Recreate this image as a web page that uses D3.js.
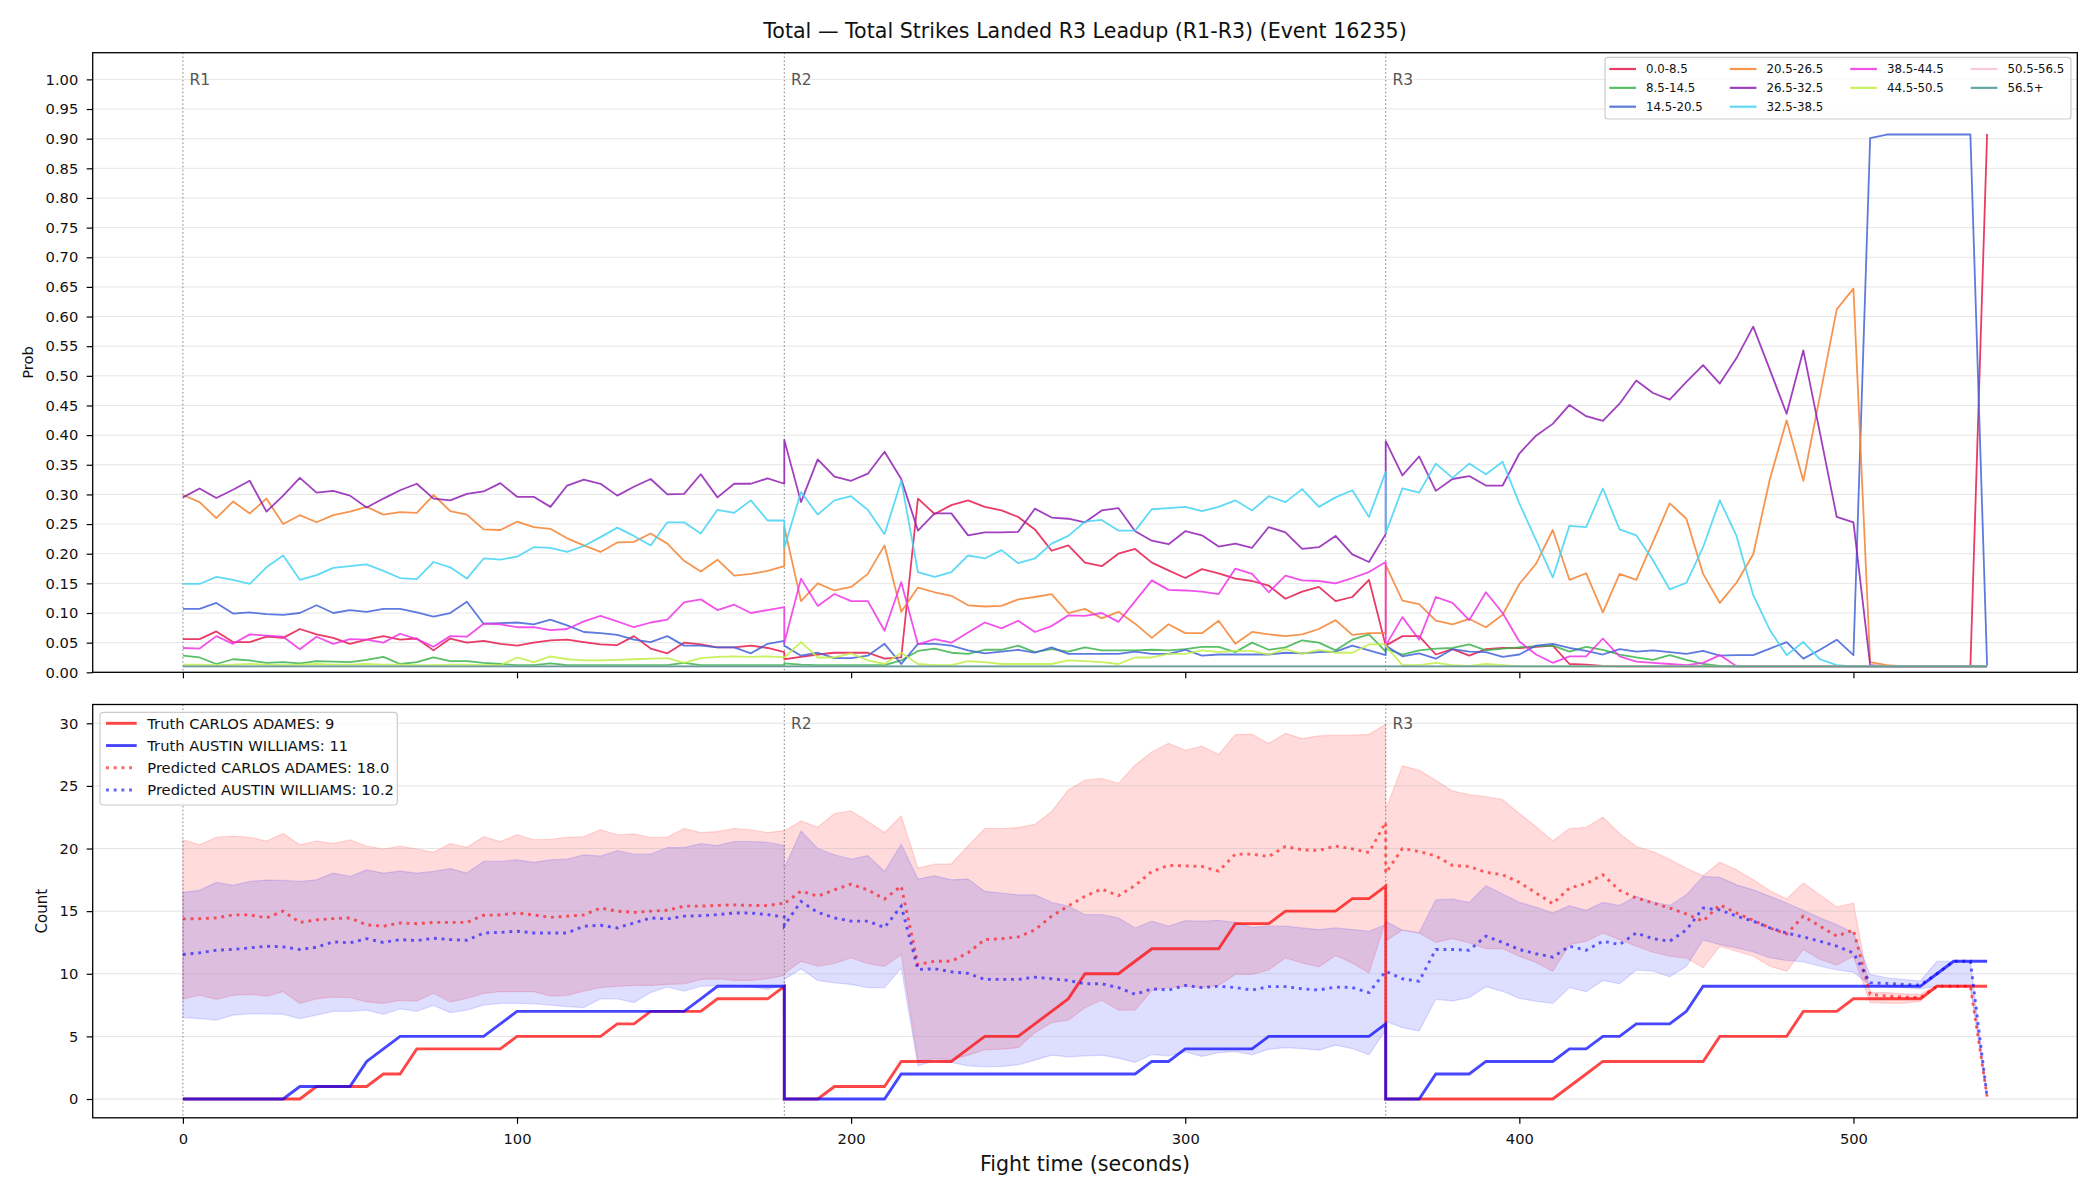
<!DOCTYPE html>
<html>
<head>
<meta charset="utf-8">
<title>Total Strikes Landed R3 Leadup</title>
<script src="https://cdn.jsdelivr.net/npm/d3@7/dist/d3.min.js"></script>
<style>
html,body{margin:0;padding:0;background:#ffffff;}
svg{display:block;}
</style>
</head>
<body>
<svg id="chart" width="2100" height="1200"></svg>
<script>
// ---------------- DATA ----------------
const tR1 = [0,5,10,15,20,25,30,35,40,45,50,55,60,65,70,75,80,85,90,95,100,105,110,115,120,125,130,135,140,145,150,155,160,165,170,175,180];
const tR2 = [180,185,190,195,200,205,210,215,220,225,230,235,240,245,250,255,260,265,270,275,280,285,290,295,300,305,310,315,320,325,330,335,340,345,350,355,360];
const tR3 = [360,365,370,375,380,385,390,395,400,405,410,415,420,425,430,435,440,445,450,455,460,465,470,475,480,485,490,495,500,505,510,515,520,525,530,535,540];

const roundStarts = [0, 180, 360];
const roundNames = ["R1", "R2", "R3"];
const bucketNames = ["0.0-8.5","8.5-14.5","14.5-20.5","20.5-26.5","26.5-32.5","32.5-38.5","38.5-44.5","44.5-50.5","50.5-56.5","56.5+"];
const probTicks = [0.00,0.05,0.10,0.15,0.20,0.25,0.30,0.35,0.40,0.45,0.50,0.55,0.60,0.65,0.70,0.75,0.80,0.85,0.90,0.95,1.00];
const countTicks = [0,5,10,15,20,25,30];
const timeTicks = [0,100,200,300,400,500];

const prob_0_8_5 = [
0.056,0.056,0.069,0.051,0.051,0.060,0.058,0.073,0.064,0.058,0.048,0.055,0.061,0.055,0.057,0.037,0.057,0.050,0.053,0.048,0.045,0.050,0.054,0.055,0.051,0.047,0.046,0.061,0.040,0.032,0.050,0.047,0.042,0.042,0.045,0.041,0.034,
0.022,0.026,0.030,0.033,0.033,0.033,0.023,0.025,0.293,0.267,0.282,0.290,0.279,0.273,0.262,0.241,0.205,0.214,0.185,0.179,0.200,0.208,0.185,0.172,0.159,0.174,0.167,0.158,0.154,0.146,0.124,0.136,0.144,0.120,0.127,0.156,0.045,
0.045,0.061,0.061,0.030,0.039,0.028,0.039,0.041,0.041,0.043,0.045,0.014,0.013,0.011,0.01,0.01,0.01,0.01,0.01,0.01,0.01,0.01,0.01,0.01,0.01,0.01,0.01,0.01,0.01,0.01,0.01,0.01,0.01,0.01,0.01,0.01,0.908];
const prob_8_5_14_5 = [
0.028,0.025,0.014,0.022,0.020,0.016,0.017,0.015,0.019,0.018,0.017,0.021,0.026,0.014,0.017,0.025,0.019,0.019,0.016,0.014,0.012,0.012,0.015,0.012,0.012,0.012,0.012,0.012,0.012,0.012,0.016,0.012,0.012,0.012,0.012,0.012,0.012,
0.015,0.013,0.012,0.012,0.012,0.012,0.012,0.020,0.036,0.040,0.033,0.031,0.038,0.038,0.045,0.034,0.039,0.035,0.042,0.037,0.037,0.037,0.038,0.037,0.039,0.043,0.043,0.034,0.050,0.038,0.042,0.054,0.050,0.037,0.055,0.064,0.035,
0.040,0.030,0.037,0.040,0.041,0.047,0.037,0.040,0.042,0.044,0.045,0.035,0.043,0.038,0.030,0.025,0.021,0.029,0.021,0.014,0.011,0.01,0.01,0.01,0.01,0.01,0.01,0.01,0.01,0.01,0.01,0.01,0.01,0.01,0.01,0.01,0.01];
const prob_14_5_20_5 = [
0.107,0.107,0.117,0.099,0.101,0.098,0.097,0.100,0.113,0.100,0.105,0.102,0.107,0.107,0.101,0.094,0.100,0.119,0.082,0.083,0.084,0.081,0.089,0.079,0.068,0.066,0.063,0.055,0.051,0.061,0.045,0.045,0.042,0.042,0.032,0.048,0.053,
0.045,0.028,0.033,0.024,0.024,0.028,0.048,0.014,0.048,0.048,0.045,0.037,0.032,0.035,0.038,0.033,0.042,0.031,0.031,0.031,0.031,0.035,0.031,0.031,0.038,0.028,0.030,0.030,0.030,0.030,0.033,0.032,0.034,0.035,0.045,0.037,0.029,
0.045,0.027,0.032,0.023,0.039,0.035,0.034,0.026,0.030,0.045,0.048,0.041,0.036,0.030,0.039,0.035,0.037,0.034,0.031,0.036,0.028,0.029,0.029,0.040,0.051,0.023,0.038,0.055,0.029,0.901,0.907,0.907,0.907,0.907,0.907,0.907,0.012];
const prob_20_5_26_5 = [
0.299,0.287,0.260,0.288,0.268,0.293,0.250,0.265,0.253,0.265,0.271,0.279,0.266,0.270,0.269,0.299,0.272,0.266,0.241,0.240,0.254,0.245,0.242,0.226,0.214,0.203,0.219,0.220,0.234,0.217,0.188,0.170,0.190,0.163,0.166,0.171,0.179,
0.245,0.120,0.150,0.138,0.144,0.166,0.214,0.102,0.143,0.135,0.129,0.113,0.111,0.112,0.123,0.127,0.132,0.100,0.107,0.091,0.102,0.082,0.058,0.081,0.066,0.066,0.087,0.048,0.068,0.064,0.061,0.064,0.073,0.088,0.063,0.066,0.066,
0.181,0.121,0.115,0.087,0.081,0.090,0.076,0.097,0.149,0.183,0.240,0.156,0.167,0.101,0.166,0.156,0.220,0.285,0.259,0.166,0.117,0.151,0.199,0.326,0.425,0.323,0.467,0.612,0.647,0.017,0.012,0.01,0.01,0.01,0.01,0.01,0.01];
const prob_26_5_32_5 = [
0.295,0.310,0.294,0.308,0.323,0.271,0.298,0.328,0.303,0.306,0.298,0.278,0.293,0.307,0.318,0.293,0.290,0.301,0.305,0.319,0.296,0.296,0.279,0.315,0.325,0.318,0.298,0.313,0.326,0.300,0.301,0.334,0.295,0.318,0.318,0.327,0.318,
0.392,0.287,0.359,0.330,0.323,0.335,0.372,0.326,0.239,0.268,0.268,0.231,0.236,0.236,0.237,0.276,0.261,0.259,0.253,0.273,0.277,0.238,0.222,0.216,0.238,0.231,0.212,0.217,0.210,0.245,0.236,0.208,0.211,0.230,0.199,0.186,0.233,
0.390,0.332,0.364,0.306,0.326,0.331,0.315,0.315,0.369,0.399,0.419,0.451,0.432,0.424,0.453,0.492,0.471,0.460,0.490,0.518,0.487,0.530,0.583,0.510,0.436,0.543,0.403,0.262,0.253,0.012,0.01,0.01,0.01,0.01,0.01,0.01,0.01];
const prob_32_5_38_5 = [
0.149,0.149,0.161,0.156,0.149,0.177,0.197,0.156,0.164,0.176,0.179,0.182,0.171,0.159,0.157,0.186,0.177,0.158,0.192,0.190,0.195,0.211,0.210,0.203,0.213,0.228,0.244,0.230,0.214,0.253,0.253,0.234,0.274,0.269,0.290,0.256,0.256,
0.210,0.304,0.266,0.290,0.297,0.274,0.233,0.323,0.169,0.161,0.169,0.197,0.192,0.206,0.184,0.192,0.217,0.230,0.254,0.257,0.239,0.239,0.275,0.277,0.279,0.272,0.279,0.290,0.273,0.297,0.287,0.309,0.279,0.295,0.307,0.262,0.338,
0.235,0.310,0.303,0.352,0.328,0.352,0.334,0.355,0.285,0.223,0.160,0.247,0.245,0.310,0.241,0.231,0.189,0.140,0.151,0.211,0.290,0.230,0.130,0.071,0.029,0.051,0.022,0.012,0.01,0.01,0.01,0.01,0.01,0.01,0.01,0.01,0.01];
const prob_38_5_44_5 = [
0.041,0.040,0.061,0.048,0.064,0.062,0.060,0.039,0.060,0.048,0.056,0.055,0.050,0.065,0.056,0.043,0.061,0.060,0.082,0.081,0.076,0.076,0.071,0.073,0.086,0.095,0.086,0.076,0.084,0.089,0.118,0.123,0.105,0.114,0.100,0.105,0.110,
0.050,0.158,0.112,0.132,0.120,0.120,0.070,0.152,0.047,0.056,0.050,0.067,0.084,0.074,0.087,0.068,0.078,0.096,0.095,0.100,0.085,0.120,0.155,0.139,0.138,0.136,0.132,0.175,0.166,0.135,0.163,0.155,0.154,0.150,0.159,0.169,0.186,
0.045,0.093,0.055,0.127,0.117,0.088,0.135,0.100,0.052,0.030,0.016,0.027,0.027,0.057,0.027,0.018,0.016,0.014,0.012,0.016,0.029,0.01,0.01,0.01,0.01,0.01,0.01,0.01,0.01,0.01,0.01,0.01,0.01,0.01,0.01,0.01,0.01];
const prob_44_5_50_5 = [
0.013,0.013,0.012,0.013,0.014,0.013,0.012,0.013,0.014,0.013,0.013,0.014,0.013,0.013,0.012,0.012,0.013,0.013,0.012,0.012,0.025,0.017,0.027,0.022,0.020,0.020,0.021,0.022,0.023,0.024,0.016,0.024,0.026,0.027,0.026,0.027,0.025,
0.025,0.051,0.025,0.025,0.032,0.020,0.014,0.033,0.014,0.012,0.012,0.019,0.017,0.014,0.014,0.014,0.014,0.020,0.019,0.017,0.014,0.025,0.025,0.031,0.031,0.037,0.034,0.036,0.036,0.030,0.039,0.031,0.038,0.033,0.033,0.047,0.047,
0.044,0.012,0.012,0.016,0.012,0.011,0.014,0.012,0.01,0.01,0.01,0.01,0.01,0.01,0.01,0.01,0.01,0.01,0.01,0.01,0.01,0.01,0.01,0.01,0.01,0.01,0.01,0.01,0.01,0.01,0.01,0.01,0.01,0.01,0.01,0.01,0.01];
const prob_50_5_56_5 = [
0.01,0.01,0.01,0.01,0.01,0.01,0.01,0.01,0.01,0.01,0.01,0.01,0.01,0.01,0.01,0.01,0.01,0.01,0.01,0.01,0.01,0.01,0.01,0.01,0.01,0.01,0.01,0.01,0.01,0.01,0.01,0.01,0.01,0.01,0.01,0.01,0.01,
0.01,0.01,0.01,0.01,0.01,0.01,0.01,0.01,0.01,0.01,0.01,0.01,0.01,0.01,0.01,0.01,0.01,0.01,0.01,0.01,0.01,0.01,0.01,0.01,0.01,0.01,0.01,0.01,0.01,0.01,0.01,0.01,0.01,0.01,0.01,0.01,0.01,
0.01,0.01,0.01,0.01,0.01,0.01,0.01,0.01,0.01,0.01,0.01,0.01,0.01,0.01,0.01,0.01,0.01,0.01,0.01,0.01,0.01,0.01,0.01,0.01,0.01,0.01,0.01,0.01,0.01,0.01,0.01,0.01,0.01,0.01,0.01,0.01,0.01];
const prob_56_5_plus = [
0.01,0.01,0.01,0.01,0.01,0.01,0.01,0.01,0.01,0.01,0.01,0.01,0.01,0.01,0.01,0.01,0.01,0.01,0.01,0.01,0.01,0.01,0.01,0.01,0.01,0.01,0.01,0.01,0.01,0.01,0.01,0.01,0.01,0.01,0.01,0.01,0.01,
0.01,0.01,0.01,0.01,0.01,0.01,0.01,0.01,0.01,0.01,0.01,0.01,0.01,0.01,0.01,0.01,0.01,0.01,0.01,0.01,0.01,0.01,0.01,0.01,0.01,0.01,0.01,0.01,0.01,0.01,0.01,0.01,0.01,0.01,0.01,0.01,0.01,
0.01,0.01,0.01,0.01,0.01,0.01,0.01,0.01,0.01,0.01,0.01,0.01,0.01,0.01,0.01,0.01,0.01,0.01,0.01,0.01,0.01,0.01,0.01,0.01,0.01,0.01,0.01,0.01,0.01,0.01,0.01,0.01,0.01,0.01,0.01,0.01,0.01];

// Bottom panel: cumulative counts
const truthAdames = [
0,0,0,0,0,0,0,0,1,1,1,1,2,2,4,4,4,4,4,4,5,5,5,5,5,5,6,6,7,7,7,7,8,8,8,8,9,
0,0,0,1,1,1,1,3,3,3,3,4,5,5,5,6,7,8,10,10,10,11,12,12,12,12,12,14,14,14,15,15,15,15,16,16,17,
0,0,0,0,0,0,0,0,0,0,0,1,2,3,3,3,3,3,3,3,5,5,5,5,5,7,7,7,8,8,8,8,8,9,9,9,9];
const truthWilliams = [
0,0,0,0,0,0,0,1,1,1,1,3,4,5,5,5,5,5,5,6,7,7,7,7,7,7,7,7,7,7,7,8,9,9,9,9,9,
0,0,0,0,0,0,0,2,2,2,2,2,2,2,2,2,2,2,2,2,2,2,3,3,4,4,4,4,4,5,5,5,5,5,5,5,6,
0,0,0,2,2,2,3,3,3,3,3,4,4,5,5,6,6,6,7,9,9,9,9,9,9,9,9,9,9,9,9,9,9,10,11,11,11];
const predAdames = [
14.38,14.40,14.46,14.70,14.70,14.46,15.00,14.10,14.30,14.40,14.46,13.90,13.80,14.06,14.00,14.10,14.10,14.10,14.67,14.70,14.85,14.70,14.50,14.60,14.70,15.25,15.00,14.90,15.00,15.07,15.40,15.40,15.46,15.50,15.46,15.44,15.65,
15.60,16.60,16.20,16.70,17.16,16.70,15.97,17.00,10.74,11.00,11.00,11.67,12.73,12.80,12.94,13.50,14.60,15.40,16.20,16.76,16.23,17.05,18.17,18.65,18.62,18.57,18.20,19.55,19.55,19.36,20.16,19.90,19.84,20.20,19.97,19.68,22.10,
18.04,20.00,19.76,19.40,18.65,18.57,18.10,17.90,17.30,16.45,15.60,16.84,17.20,17.90,16.66,16.05,15.65,15.25,14.77,14.20,15.50,14.85,14.27,13.66,13.18,14.60,13.80,13.00,13.50,8.36,8.22,8.14,8.10,9.00,9.00,9.00,0.20];
const predWilliams = [
11.54,11.67,11.88,11.94,12.07,12.20,12.15,11.94,12.12,12.55,12.47,12.80,12.50,12.73,12.65,12.84,12.73,12.68,13.26,13.30,13.40,13.26,13.26,13.26,13.80,13.87,13.66,14.06,14.46,14.38,14.60,14.64,14.72,14.85,14.85,14.72,14.53,
13.85,15.78,14.90,14.46,14.20,14.20,13.70,15.40,10.34,10.40,10.16,10.03,9.55,9.55,9.55,9.73,9.60,9.47,9.20,9.20,8.90,8.36,8.80,8.70,9.07,8.90,9.00,8.90,8.70,8.97,8.97,8.80,8.70,8.94,8.90,8.50,10.20,
10.20,9.60,9.40,11.94,11.94,11.88,13.00,12.50,11.94,11.60,11.33,12.20,11.88,12.60,12.33,13.26,12.80,12.60,13.50,15.25,15.10,14.60,14.20,13.66,13.26,12.94,12.60,12.20,11.67,9.28,9.23,9.15,9.10,10.00,11.00,11.00,0.20];
const bandAdamesHi = [
20.70,20.30,20.90,21.00,20.90,20.60,21.20,20.30,20.60,20.40,20.70,20.20,19.95,20.20,19.95,19.70,20.40,20.10,20.95,20.56,21.10,20.70,20.74,20.90,20.95,21.50,21.10,21.17,20.90,20.90,21.60,21.27,21.35,21.60,21.50,21.27,21.43,
21.40,22.20,21.70,22.80,23.00,22.15,21.27,22.60,18.43,18.75,18.78,20.20,21.60,21.60,21.67,21.94,22.94,24.67,25.46,25.60,25.20,26.66,27.70,28.40,27.85,28.17,27.50,29.10,29.12,28.38,29.20,28.78,29.00,29.05,29.05,29.12,29.92,
23.10,26.60,26.26,25.46,24.60,24.30,24.14,23.90,22.80,21.75,20.60,21.60,21.70,22.50,21.20,20.16,19.76,19.15,18.43,17.82,18.90,18.30,17.50,16.63,15.97,17.24,16.30,15.33,15.65,8.50,8.50,8.40,8.36,9.07,9.07,9.07,0.20];
const bandAdamesLo = [
7.96,8.30,7.96,8.28,8.36,8.22,8.57,7.64,8.00,8.14,8.10,7.75,7.64,7.88,7.82,8.44,7.75,8.04,8.44,8.57,8.57,8.57,8.22,8.28,8.62,8.90,9.00,9.07,9.07,9.15,9.20,9.55,9.60,9.47,9.47,9.60,9.87,
10.03,11.00,10.60,10.82,11.27,10.80,10.60,11.54,3.00,3.24,3.13,3.50,3.93,3.98,4.10,5.30,6.10,6.30,7.30,7.88,7.10,7.10,8.67,8.90,9.00,8.90,9.07,9.95,9.95,10.30,11.27,10.87,10.56,11.46,10.87,10.08,14.20,
12.60,13.50,13.26,12.50,12.80,12.47,12.00,12.00,11.40,10.90,10.20,12.33,12.60,13.26,12.73,12.20,11.72,11.40,11.25,10.48,12.20,11.80,11.40,10.60,10.20,11.94,11.14,10.70,11.40,7.70,7.64,7.64,7.80,9.00,9.00,9.00,0.20];
const bandWilliamsHi = [
16.50,16.66,17.30,17.06,17.37,17.48,17.45,17.37,17.50,18.04,17.77,18.30,18.04,18.20,18.04,18.17,18.40,18.04,18.97,18.97,19.10,18.90,19.10,19.15,19.50,19.40,19.84,19.55,19.55,20.08,20.08,20.40,20.24,20.56,20.56,20.50,20.24,
18.43,21.40,20.00,19.50,19.15,19.44,18.17,20.34,17.56,17.82,17.50,17.56,16.58,16.45,16.30,16.30,15.70,15.40,14.72,14.72,14.46,13.66,14.20,13.80,14.24,14.20,14.27,14.10,13.70,13.80,13.80,13.66,13.53,13.66,13.53,13.40,13.93,
14.20,13.47,13.26,15.90,15.97,15.70,17.03,16.37,15.70,15.33,14.85,15.44,15.07,15.70,15.46,16.18,15.73,15.46,16.30,17.77,17.70,17.10,16.70,16.18,15.65,15.07,14.46,13.93,13.26,9.95,9.68,9.55,9.42,11.00,11.00,11.00,0.20];
const bandWilliamsLo = [
6.50,6.42,6.30,6.70,6.80,6.80,6.76,6.42,6.70,7.00,7.00,7.10,6.76,7.20,7.00,7.48,6.90,7.10,7.50,7.64,7.64,7.60,7.50,7.37,7.30,8.00,8.00,7.70,8.50,8.94,8.62,9.00,9.07,9.07,8.97,8.75,9.15,
9.55,10.40,9.47,9.28,9.15,8.90,8.90,10.48,2.65,3.05,2.92,2.65,2.57,2.60,2.73,3.10,3.50,3.37,3.45,3.50,3.26,2.92,3.55,3.45,3.77,3.40,3.70,3.80,3.53,3.98,4.10,4.03,3.90,4.30,4.03,3.53,5.50,
6.20,5.70,5.44,7.96,7.83,8.10,8.97,8.60,8.04,7.80,7.64,8.90,8.57,9.47,9.20,10.30,10.20,9.76,10.60,12.70,12.33,12.07,11.75,11.27,11.06,10.95,10.60,10.30,10.13,9.07,8.97,8.90,8.80,9.00,9.00,9.00,0.20];

const bottomLegendLabels = ["Truth CARLOS ADAMES: 9", "Truth AUSTIN WILLIAMS: 11", "Predicted CARLOS ADAMES: 18.0", "Predicted AUSTIN WILLIAMS: 10.2"];
const titleText = "Total \u2014 Total Strikes Landed R3 Leadup (R1-R3) (Event 16235)";

// ---------------- STYLE / LAYOUT ----------------
const FONT = "'DejaVu Sans', sans-serif";
const bucketColors = ["#e6194b","#3cb44b","#4363d8","#f58231","#911eb4","#42d4f4","#f032e6","#bfef45","#fabed4","#469990"];
const lineAlpha = 0.85;
const L = 92.7, R = 2077.3;
const topBox = {top: 52.7, bottom: 672.3};
const botBox = {top: 704.5, bottom: 1117.8};

const svg = d3.select("#chart").style("font-family", FONT);
svg.append("rect").attr("width", 2100).attr("height", 1200).attr("fill", "#fff");
const defs = svg.append("defs");
defs.append("clipPath").attr("id", "clipTop").append("rect")
  .attr("x", L).attr("y", topBox.top).attr("width", R - L).attr("height", topBox.bottom - topBox.top);
defs.append("clipPath").attr("id", "clipBot").append("rect")
  .attr("x", L).attr("y", botBox.top).attr("width", R - L).attr("height", botBox.bottom - botBox.top);

const times = tR1.concat(tR2, tR3);
const x = d3.scaleLinear().domain([-27, 567]).range([L, R]);
const yP = d3.scaleLinear().domain([0, 1.045]).range([topBox.bottom, topBox.top]);
const yC = d3.scaleLinear().domain([-1.5, 31.5]).range([botBox.bottom, botBox.top]);

const probSeries = [prob_0_8_5, prob_8_5_14_5, prob_14_5_20_5, prob_20_5_26_5, prob_26_5_32_5,
  prob_32_5_38_5, prob_38_5_44_5, prob_44_5_50_5, prob_50_5_56_5, prob_56_5_plus];

function zip(vals) { return times.map((t, i) => [t, vals[i]]); }

// ---------- TOP PANEL ----------
const gTop = svg.append("g");
gTop.append("g").selectAll("line").data(probTicks).join("line")
  .attr("x1", L).attr("x2", R).attr("y1", d => yP(d)).attr("y2", d => yP(d))
  .attr("stroke", "#e6e6e6").attr("stroke-width", 1);
const topPlot = gTop.append("g").attr("clip-path", "url(#clipTop)");
topPlot.selectAll("line.rd").data(roundStarts).join("line").attr("class", "rd")
  .attr("x1", d => x(d)).attr("x2", d => x(d)).attr("y1", topBox.top).attr("y2", topBox.bottom)
  .attr("stroke", "#555").attr("stroke-opacity", 0.75).attr("stroke-width", 1).attr("stroke-dasharray", "1.5,2.4");
const lineP = d3.line().x(d => x(d[0])).y(d => yP(d[1]));
probSeries.forEach((vals, k) => {
  topPlot.append("path").datum(zip(vals)).attr("d", lineP)
    .attr("fill", "none").attr("stroke", bucketColors[k]).attr("stroke-opacity", lineAlpha)
    .attr("stroke-width", 1.8).attr("stroke-linejoin", "round");
});
gTop.selectAll("text.rl").data(roundStarts).join("text").attr("class", "rl")
  .attr("x", (d) => x(d + 2)).attr("y", yP(1.0)).attr("dy", "0.36em")
  .attr("font-size", "15.5px").attr("fill", "#555").text((d, i) => roundNames[i]);

function styleAxis(g) {
  g.select(".domain").remove();
  g.attr("font-family", FONT);
  g.selectAll(".tick line").attr("stroke", "#000").attr("stroke-width", 1.2);
  g.selectAll(".tick text").attr("fill", "#111").attr("font-size", "14.7px");
}
gTop.append("g").attr("transform", `translate(${L},0)`)
  .call(d3.axisLeft(yP).tickValues(probTicks).tickFormat(d3.format(".2f")).tickSize(6).tickPadding(8.4))
  .call(styleAxis);
gTop.append("g").attr("transform", `translate(0,${topBox.bottom})`)
  .call(d3.axisBottom(x).tickValues(timeTicks).tickFormat("").tickSize(6))
  .call(styleAxis);
gTop.append("rect").attr("x", L).attr("y", topBox.top).attr("width", R - L).attr("height", topBox.bottom - topBox.top)
  .attr("fill", "none").attr("stroke", "#000").attr("stroke-width", 1.3);
gTop.append("text").attr("transform", `translate(28,${(topBox.top + topBox.bottom) / 2}) rotate(-90)`)
  .attr("text-anchor", "middle").attr("dy", "0.36em").attr("font-size", "14.7px").attr("fill", "#111").text("Prob");

// top legend
const tl = {x: 1605, y: 57.3, w: 466, h: 61.7, col0: 1609.3, colStep: 120.47, row0: 69, rowStep: 18.85, hLen: 26.7, gap: 10};
const legTop = gTop.append("g");
legTop.append("rect").attr("x", tl.x).attr("y", tl.y).attr("width", tl.w).attr("height", tl.h).attr("rx", 3)
  .attr("fill", "#fff").attr("fill-opacity", 0.8).attr("stroke", "#cccccc").attr("stroke-width", 1.2);
const nCols = 4, nRows = Math.ceil(bucketNames.length / nCols);
const perCol = d3.range(nCols).map(c => c < bucketNames.length % nCols || bucketNames.length % nCols === 0 ? nRows : nRows - 1);
let idx = 0;
perCol.forEach((cnt, c) => {
  for (let r = 0; r < cnt; r++, idx++) {
    const cx = tl.col0 + c * tl.colStep, cy = tl.row0 + r * tl.rowStep;
    legTop.append("line").attr("x1", cx).attr("x2", cx + tl.hLen).attr("y1", cy).attr("y2", cy)
      .attr("stroke", bucketColors[idx]).attr("stroke-opacity", lineAlpha).attr("stroke-width", 2.2);
    legTop.append("text").attr("x", cx + tl.hLen + tl.gap).attr("y", cy).attr("dy", "0.36em")
      .attr("font-size", "11.8px").attr("fill", "#111").text(bucketNames[idx]);
  }
});

// ---------- BOTTOM PANEL ----------
const gBot = svg.append("g");
const botPlot = gBot.append("g").attr("clip-path", "url(#clipBot)");
const area = (hi, lo) => d3.area().x((d, i) => x(times[i])).y0((d, i) => yC(lo[i])).y1((d, i) => yC(hi[i]))(times);
botPlot.append("path").attr("d", area(bandAdamesHi, bandAdamesLo))
  .attr("fill", "#ff0000").attr("fill-opacity", 0.14).attr("stroke", "#ff0000").attr("stroke-opacity", 0.14).attr("stroke-width", 1.2);
botPlot.append("path").attr("d", area(bandWilliamsHi, bandWilliamsLo))
  .attr("fill", "#0000ff").attr("fill-opacity", 0.13).attr("stroke", "#0000ff").attr("stroke-opacity", 0.13).attr("stroke-width", 1.2);
botPlot.append("g").selectAll("line").data(countTicks).join("line")
  .attr("x1", L).attr("x2", R).attr("y1", d => yC(d)).attr("y2", d => yC(d))
  .attr("stroke", "#b0b0b0").attr("stroke-opacity", 0.35).attr("stroke-width", 1);
botPlot.selectAll("line.rd").data(roundStarts).join("line").attr("class", "rd")
  .attr("x1", d => x(d)).attr("x2", d => x(d)).attr("y1", botBox.top).attr("y2", botBox.bottom)
  .attr("stroke", "#555").attr("stroke-opacity", 0.75).attr("stroke-width", 1).attr("stroke-dasharray", "1.5,2.4");
const lineC = d3.line().x(d => x(d[0])).y(d => yC(d[1]));
botPlot.append("path").datum(zip(truthAdames)).attr("d", lineC).attr("fill", "none")
  .attr("stroke", "#ff0000").attr("stroke-opacity", 0.72).attr("stroke-width", 2.9);
botPlot.append("path").datum(zip(truthWilliams)).attr("d", lineC).attr("fill", "none")
  .attr("stroke", "#0000ff").attr("stroke-opacity", 0.72).attr("stroke-width", 2.9);
botPlot.append("path").datum(zip(predAdames)).attr("d", lineC).attr("fill", "none")
  .attr("stroke", "#ff0000").attr("stroke-opacity", 0.6).attr("stroke-width", 2.9).attr("stroke-dasharray", "2.9,4.8");
botPlot.append("path").datum(zip(predWilliams)).attr("d", lineC).attr("fill", "none")
  .attr("stroke", "#0000ff").attr("stroke-opacity", 0.6).attr("stroke-width", 2.9).attr("stroke-dasharray", "2.9,4.8");
// round labels (R1 sits behind the legend in the reference, so only later rounds are shown)
const botRoundIdx = [1, 2];
gBot.selectAll("text.rl").data(botRoundIdx).join("text").attr("class", "rl")
  .attr("x", i => x(roundStarts[i] + 2)).attr("y", yC(30)).attr("dy", "0.36em")
  .attr("font-size", "15.5px").attr("fill", "#555").text(i => roundNames[i]);

gBot.append("g").attr("transform", `translate(${L},0)`)
  .call(d3.axisLeft(yC).tickValues(countTicks).tickFormat(d3.format("d")).tickSize(6).tickPadding(8.4))
  .call(styleAxis);
gBot.append("g").attr("transform", `translate(0,${botBox.bottom})`)
  .call(d3.axisBottom(x).tickValues(timeTicks).tickFormat(d3.format("d")).tickSize(6).tickPadding(10.2))
  .call(styleAxis);
gBot.append("rect").attr("x", L).attr("y", botBox.top).attr("width", R - L).attr("height", botBox.bottom - botBox.top)
  .attr("fill", "none").attr("stroke", "#000").attr("stroke-width", 1.3);
gBot.append("text").attr("transform", `translate(41.7,${(botBox.top + botBox.bottom) / 2}) rotate(-90)`)
  .attr("text-anchor", "middle").attr("dy", "0.36em").attr("font-size", "15px").attr("fill", "#111").text("Count");

// bottom legend
const bl = {x: 100, y: 712.3, w: 297.3, h: 92.7, hx: 106, hLen: 30.7, tx: 147.3, row0: 723.3, rowStep: 22.23};
const legBot = gBot.append("g");
legBot.append("rect").attr("x", bl.x).attr("y", bl.y).attr("width", bl.w).attr("height", bl.h).attr("rx", 3.5)
  .attr("fill", "#fff").attr("fill-opacity", 0.8).attr("stroke", "#cccccc").attr("stroke-width", 1.2);
const legStyles = [
  {c: "#ff0000", o: 0.72, dash: null},
  {c: "#0000ff", o: 0.72, dash: null},
  {c: "#ff0000", o: 0.6, dash: "2.9,4.8"},
  {c: "#0000ff", o: 0.6, dash: "2.9,4.8"}
];
bottomLegendLabels.forEach((lab, i) => {
  const cy = bl.row0 + i * bl.rowStep;
  const ln = legBot.append("line").attr("x1", bl.hx).attr("x2", bl.hx + bl.hLen).attr("y1", cy).attr("y2", cy)
    .attr("stroke", legStyles[i].c).attr("stroke-opacity", legStyles[i].o).attr("stroke-width", 2.9);
  if (legStyles[i].dash) ln.attr("stroke-dasharray", legStyles[i].dash);
  legBot.append("text").attr("x", bl.tx).attr("y", cy).attr("dy", "0.36em")
    .attr("font-size", "14.7px").attr("fill", "#111").text(lab);
});

// titles
svg.append("text").attr("x", (L + R) / 2).attr("y", 38).attr("text-anchor", "middle")
  .attr("font-size", "20.6px").attr("fill", "#111").text(titleText);
svg.append("text").attr("x", (L + R) / 2).attr("y", 1171).attr("text-anchor", "middle")
  .attr("font-size", "20.6px").attr("fill", "#111").text("Fight time (seconds)");
</script>
</body>
</html>
